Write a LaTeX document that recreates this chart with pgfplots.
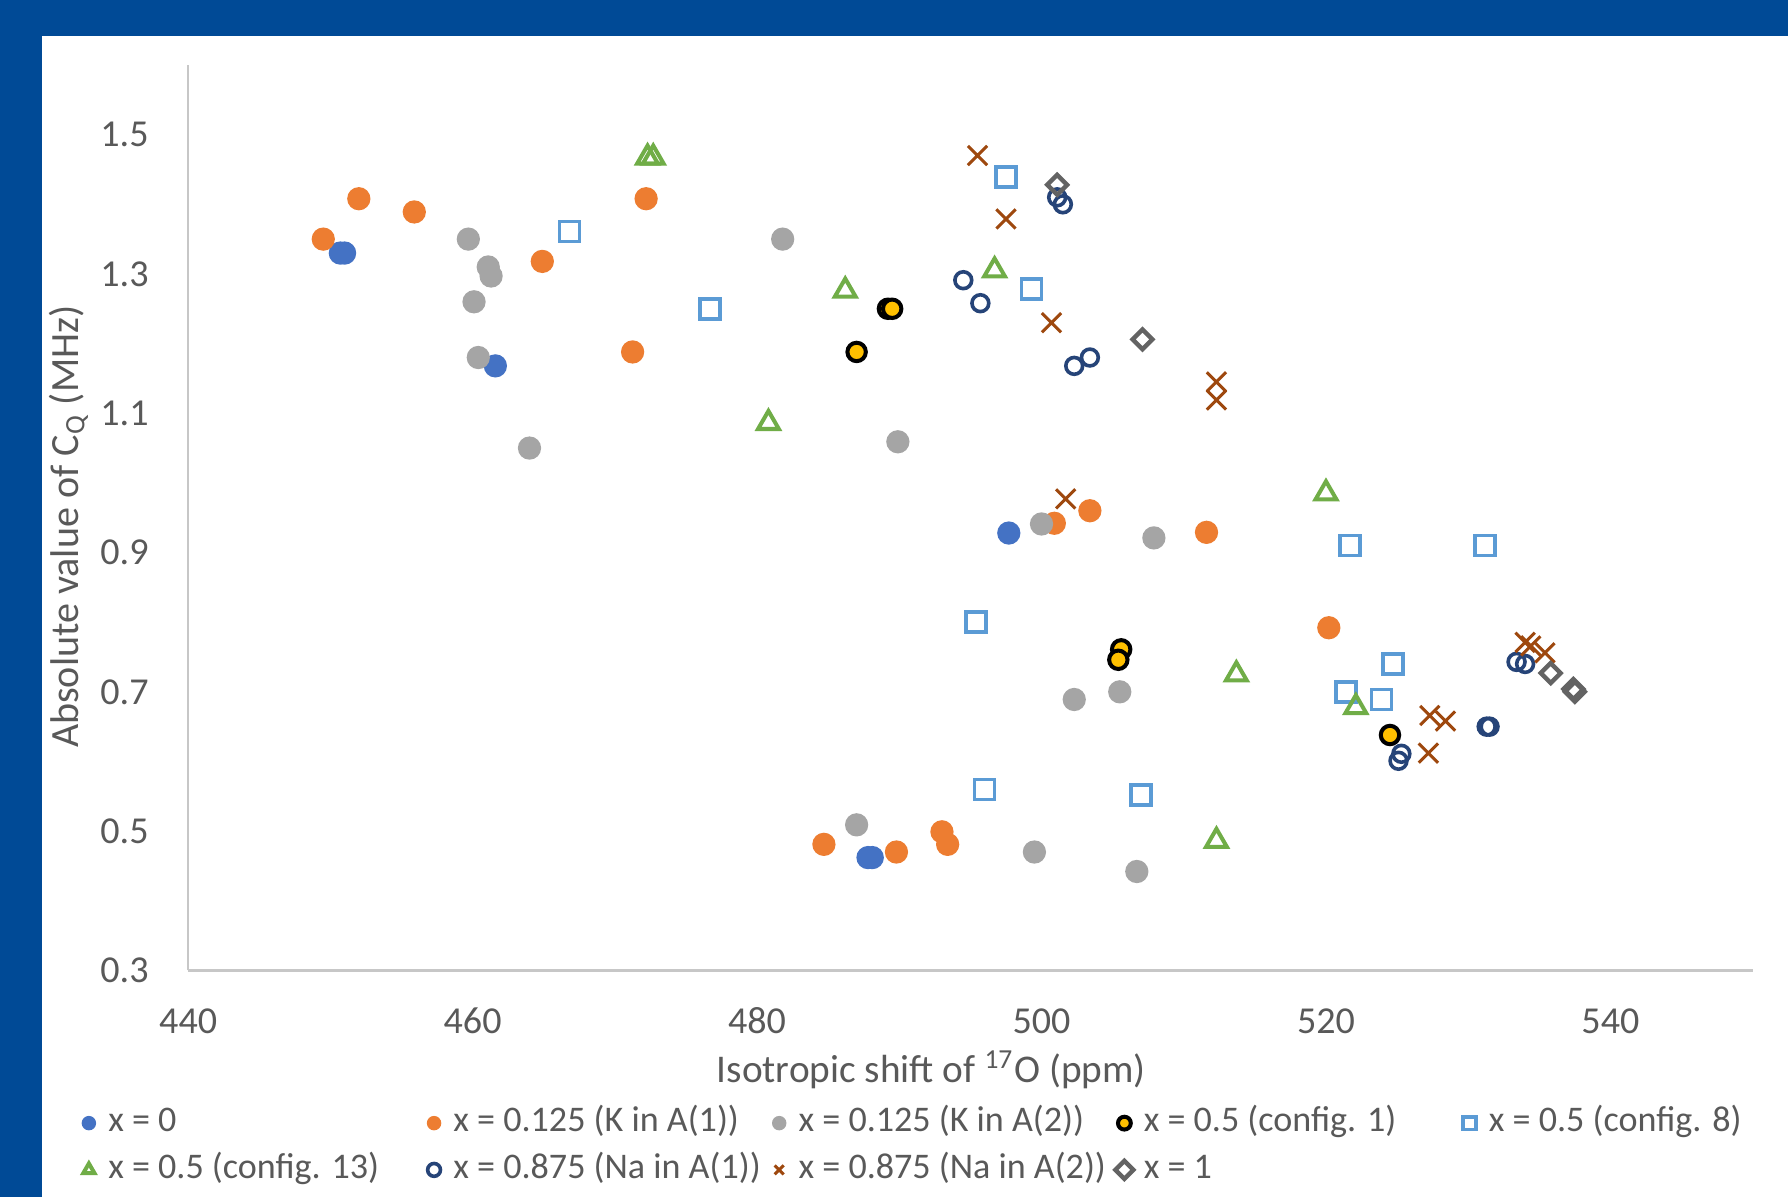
\documentclass[border=0pt]{standalone}
\usepackage{pgfplots}
\pgfplotsset{compat=1.18}
\usepackage{fontspec}
\setmainfont{Carlito}
\definecolor{bgblue}{HTML}{004A96}
\definecolor{txt}{HTML}{595959}
\definecolor{cA}{HTML}{4472C4}
\definecolor{cB}{HTML}{ED7D31}
\definecolor{cC}{HTML}{A5A5A5}
\definecolor{cD}{HTML}{FFC000}
\definecolor{cE}{HTML}{5B9BD5}
\definecolor{cF}{HTML}{70AD47}
\definecolor{cG}{HTML}{264478}
\definecolor{cH}{HTML}{9E480E}
\definecolor{cI}{HTML}{636363}
\pgfplotsset{lg/.style={legend image code/.code={\path[use as bounding box, draw=none, fill=none] (-0.9mm,-0.9mm) rectangle (0.9mm,0.9mm);\draw[##1, mark size=1.6pt] plot coordinates {(0mm,0mm)};}}}
\newcommand{\lbl}[1]{\makebox[27.27mm][l]{#1}}
\begin{document}
\begin{tikzpicture}
\fill[bgblue] (0,0) rectangle (156.8mm,105mm);
\fill[white] (3.7mm,0) rectangle (156.8mm,101.8mm);
\begin{axis}[
  at={(16.5mm,19.9mm)}, anchor=south west,
  scale only axis, width=137.2mm, height=79.4mm,
  xmin=440, xmax=550, ymin=0.3, ymax=1.6,
  xtick={440,460,480,500,520,540},
  ytick={0.3,0.5,0.7,0.9,1.1,1.3,1.5},
  axis x line=bottom, axis y line=left,
  axis line style={-, draw=black!22, line width=0.6pt},
  major tick length=0pt,
  /pgf/number format/assume math mode=true,
  tick label style={font=\fontsize{9.5}{11}\selectfont, text=txt},
  yticklabel style={/pgf/number format/fixed, /pgf/number format/fixed zerofill, /pgf/number format/precision=1, anchor=east, inner sep=0pt, xshift=-3.4mm},
  xticklabel style={anchor=base, inner sep=0pt, yshift=-5.5mm},
  xlabel={Isotropic shift of \textsuperscript{17}O (ppm)},
  ylabel={Absolute value of C\textsubscript{Q} (MHz)},
  xlabel style={at={(axis description cs:0.475,-0.1096)}, anchor=center, font=\fontsize{9.8}{11}\selectfont, text=txt},
  ylabel style={at={(axis description cs:-0.0765,0.49)}, anchor=center, rotate=0, font=\fontsize{10}{11}\selectfont, text=txt},
  legend columns=5,
  legend cell align=left,
  legend style={at={(-0.070,-0.1945)}, anchor=west, draw=none, fill=none, inner sep=0pt, outer sep=0pt,
    font=\fontsize{9}{11}\selectfont, text=txt, row sep=0.8mm,
    nodes={inner sep=0.4mm, text height=2.0mm, text depth=0.5mm},
    /tikz/every odd column/.append style={column sep=0.4mm}},
]
\addplot[only marks, mark=*, mark size=2.7pt, color=cA, lg] coordinates {
(450.7,1.330) (451.0,1.330) (461.6,1.168) (497.7,0.928) (488.1,0.462) (487.8,0.462)
};
\addlegendentry{\lbl{x = 0}}
\addplot[only marks, mark=*, mark size=2.7pt, color=cB, lg] coordinates {
(449.5,1.350) (452.0,1.408) (455.9,1.389) (464.9,1.318) (472.2,1.408) (471.25,1.188)
(500.9,0.942) (503.4,0.960) (511.6,0.929) (520.2,0.792)
(484.7,0.481) (489.8,0.470) (493.0,0.499) (493.4,0.481)
};
\addlegendentry{\lbl{x = 0.125 (K in A(1))}}
\addplot[only marks, mark=*, mark size=2.7pt, color=cC, lg] coordinates {
(459.7,1.350) (461.1,1.310) (461.3,1.297) (460.1,1.260) (460.4,1.180) (464.0,1.050)
(481.8,1.350) (489.9,1.059) (500.0,0.941) (507.9,0.921) (502.3,0.689) (505.5,0.700)
(487.0,0.509) (499.5,0.470) (506.7,0.442)
};
\addlegendentry{\lbl{x = 0.125 (K in A(2))}}
\addplot[only marks, mark=*, mark size=2.3pt, color=black, mark options={fill=cD, draw=black, line width=1pt}, lg] coordinates {
(489.2,1.250) (489.5,1.250) (487.0,1.188) (505.6,0.761) (505.4,0.746) (524.5,0.638)
};
\addlegendentry{\lbl{x = 0.5 (config. 1)}}
\addplot[only marks, mark=square, mark size=2.5pt, color=cE, mark options={line width=0.9pt}, lg] coordinates {
(466.8,1.361) (476.7,1.250) (497.5,1.439) (499.3,1.278) (495.4,0.800) (496.0,0.560)
(507.0,0.552) (521.7,0.910) (531.2,0.910) (524.7,0.740) (521.4,0.700) (523.9,0.689)
};
\addlegendentry{\lbl{x = 0.5 (config. 8)}}
\addplot[only marks, mark=triangle, mark size=3.0pt, color=cF, mark options={line width=1pt}, lg] coordinates {
(472.3,1.467) (472.7,1.467) (486.2,1.276) (480.8,1.086) (496.7,1.305) (520.0,0.985)
(513.7,0.725) (522.1,0.678) (512.3,0.486)
};
\addlegendentry{\lbl{x = 0.5 (config. 13)}}
\addplot[only marks, mark=o, mark size=2.1pt, color=cG, mark options={line width=0.9pt}, lg] coordinates {
(494.5,1.291) (495.7,1.258) (501.1,1.410) (501.5,1.400) (502.3,1.168) (503.4,1.180)
(525.3,0.611) (525.1,0.601) (531.3,0.650) (531.5,0.650) (533.4,0.743) (534.0,0.740)
};
\addlegendentry{\lbl{x = 0.875 (Na in A(1))}}
\addplot[only marks, mark=x, mark size=3.4pt, color=cH, mark options={line width=0.75pt}, lg] coordinates {
(495.5,1.470) (497.5,1.379) (500.7,1.230) (501.7,0.977) (512.3,1.145) (512.3,1.119)
(534.0,0.771) (534.4,0.766) (535.4,0.756) (527.3,0.666) (528.4,0.658) (527.2,0.612)
};
\addlegendentry{\lbl{x = 0.875 (Na in A(2))}}
\addplot[only marks, mark=square, mark size=1.75pt, color=cI, mark options={rotate=45, line width=1.1pt}, lg] coordinates {
(501.1,1.428) (507.1,1.206) (535.8,0.727) (537.4,0.704) (537.5,0.700)
};
\addlegendentry{\lbl{x = 1}}
\end{axis}
\pgfresetboundingbox
\path (0,0) rectangle (156.8mm,105mm);
\end{tikzpicture}
\end{document}
